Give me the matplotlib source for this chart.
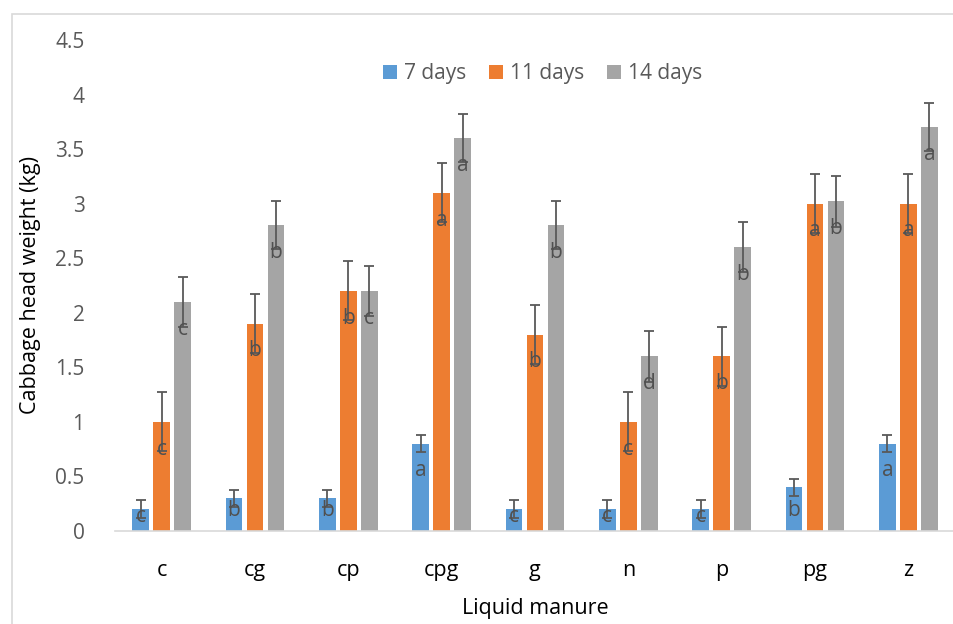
import matplotlib
matplotlib.use("Agg")
import matplotlib.pyplot as plt
import numpy as np
from matplotlib.patches import Rectangle

plt.rcParams["font.family"] = ["Open Sans", "DejaVu Sans"]

# Data
categories = ["c", "cg", "cp", "cpg", "g", "n", "p", "pg", "z"]
series_names = ["7 days", "11 days", "14 days"]
days7 = [0.2, 0.3, 0.3, 0.8, 0.2, 0.2, 0.2, 0.4, 0.8]
days11 = [1.0, 1.9, 2.2, 3.1, 1.8, 1.0, 1.6, 3.0, 3.0]
days14 = [2.1, 2.8, 2.2, 3.6, 2.8, 1.6, 2.6, 3.02, 3.7]
err7 = [0.08, 0.08, 0.08, 0.08, 0.08, 0.08, 0.08, 0.08, 0.08]
err11 = [0.27, 0.27, 0.27, 0.27, 0.27, 0.27, 0.27, 0.27, 0.27]
err14 = [0.23, 0.22, 0.23, 0.22, 0.22, 0.23, 0.23, 0.23, 0.22]
letters7 = ["c", "b", "b", "a", "c", "c", "c", "b", "a"]
letters11 = ["c", "b", "b", "a", "b", "c", "b", "a", "a"]
letters14 = ["c", "b", "c", "a", "b", "d", "b", "b", "a"]

colors = ["#5B9BD5", "#ED7D31", "#A5A5A5"]
text_grey = "#595959"

fig = plt.figure(figsize=(9.54, 6.24), dpi=100)
ax = fig.add_axes([115 / 954, 93 / 624, 840 / 954, 491 / 624])

# light frame around the chart area
fig.patches.append(Rectangle((12 / 954, -0.05), 1.2, 1 - 14 / 624 + 0.05,
                             transform=fig.transFigure, fill=False,
                             edgecolor="#D9D9D9", linewidth=1.2))

x = np.arange(len(categories))
step = 0.225
width = 0.182
all_vals = [days7, days11, days14]
all_errs = [err7, err11, err14]
all_letters = [letters7, letters11, letters14]

for i, (vals, errs, lets) in enumerate(zip(all_vals, all_errs, all_letters)):
    pos = x + (i - 1) * step
    ax.bar(pos, vals, width=width, color=colors[i], label=series_names[i], zorder=2)
    ax.errorbar(pos, vals, yerr=errs, fmt="none", ecolor="#595959",
                elinewidth=1.3, capsize=3.3, capthick=1.3, zorder=3)
    for p, v, l in zip(pos, vals, lets):
        ly = v - 0.25 if v >= 0.6 else min(v * 0.65, 0.19)
        ax.text(p, ly, l, ha="center", va="center", fontsize=15,
                color="#505050", zorder=4)

ax.set_xlim(-0.5, len(categories) - 0.5)
ax.set_ylim(0, 4.5)
ax.set_yticks(np.arange(0, 4.51, 0.5))
ax.set_yticklabels(["0", "0.5", "1", "1.5", "2", "2.5", "3", "3.5", "4", "4.5"])
ax.set_xticks(x)
ax.set_xticklabels(categories)
ax.tick_params(axis="y", length=0, pad=22, labelsize=15, labelcolor=text_grey)
ax.tick_params(axis="x", length=0, pad=21, labelsize=15.5, labelcolor="black")

for s in ["top", "right", "left"]:
    ax.spines[s].set_visible(False)
ax.spines["bottom"].set_color("#D9D9D9")
ax.spines["bottom"].set_linewidth(1.2)

ax.set_ylabel("Cabbage head weight (kg)", fontsize=15.5, color="black", labelpad=10)
ax.set_xlabel("Liquid manure", fontsize=15.5, color="black", labelpad=12)

leg = fig.legend(loc="center", bbox_to_anchor=(543 / 954, 1 - 74 / 624), ncol=3,
                 frameon=False, fontsize=15, handlelength=0.65, handleheight=0.65,
                 handletextpad=0.35, columnspacing=1.1)
for t in leg.get_texts():
    t.set_color(text_grey)

fig.savefig("out.png", dpi=100)
